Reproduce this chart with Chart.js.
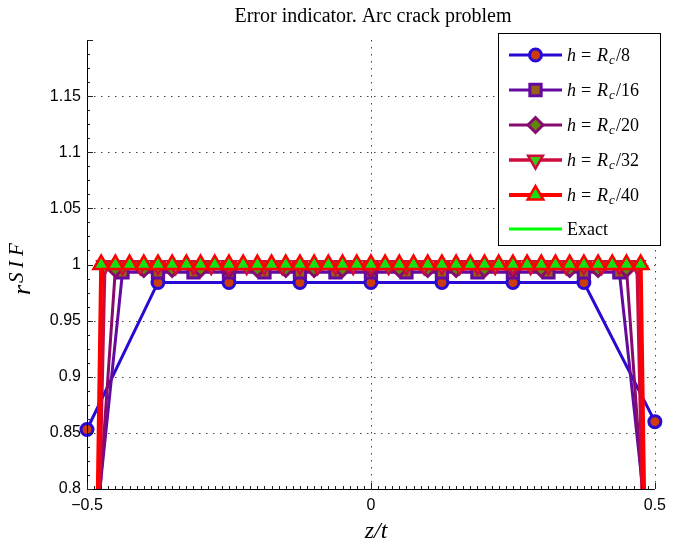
<!DOCTYPE html>
<html><head><meta charset="utf-8">
<script src="https://cdn.jsdelivr.net/npm/chart.js@4.4.1/dist/chart.umd.min.js"></script>
<style>html,body{margin:0;padding:0;background:#fff;}#wrap{width:673px;height:549px;}</style>
</head><body><div id="wrap"><canvas id="c" width="673" height="549"></canvas></div>
<script>
// ---- data ----
const x8  = [-0.5,-0.375,-0.25,-0.125,0,0.125,0.25,0.375,0.5];
const y8  = [0.853,0.984,0.984,0.984,0.984,0.984,0.984,0.984,0.860];

const x16 = [-0.5,-0.4375,-0.375,-0.3125,-0.25,-0.1875,-0.125,-0.0625,0,0.0625,0.125,0.1875,0.25,0.3125,0.375,0.4375,0.5];
const y16 = [0.69,0.993,0.993,0.993,0.993,0.993,0.993,0.993,0.993,0.993,0.993,0.993,0.993,0.993,0.993,0.993,0.70];

const x20 = [-0.5,-0.45,-0.4,-0.35,-0.3,-0.25,-0.2,-0.15,-0.1,-0.05,0,0.05,0.1,0.15,0.2,0.25,0.3,0.35,0.4,0.45,0.5];
const y20 = [0.63,0.996,0.996,0.996,0.996,0.996,0.996,0.996,0.996,0.996,0.996,0.996,0.996,0.996,0.996,0.996,0.996,0.996,0.996,0.996,0.64];

const x32 = [-0.5,-0.46875,-0.4375,-0.40625,-0.375,-0.34375,-0.3125,-0.28125,-0.25,-0.21875,-0.1875,-0.15625,-0.125,-0.09375,-0.0625,-0.03125,0,0.03125,0.0625,0.09375,0.125,0.15625,0.1875,0.21875,0.25,0.28125,0.3125,0.34375,0.375,0.40625,0.4375,0.46875,0.5];
const y32 = [0.30,0.999,0.999,0.999,0.999,0.999,0.999,0.999,0.999,0.999,0.999,0.999,0.999,0.999,0.999,0.999,0.999,0.999,0.999,0.999,0.999,0.999,0.999,0.999,0.999,0.999,0.999,0.999,0.999,0.999,0.999,0.999,0.30];

const x40 = [-0.5,-0.475,-0.45,-0.425,-0.4,-0.375,-0.35,-0.325,-0.3,-0.275,-0.25,-0.225,-0.2,-0.175,-0.15,-0.125,-0.1,-0.075,-0.05,-0.025,0,0.025,0.05,0.075,0.1,0.125,0.15,0.175,0.2,0.225,0.25,0.275,0.3,0.325,0.35,0.375,0.4,0.425,0.45,0.475,0.5];
const y40 = [0.15,1.0,1.0,1.0,1.0,1.0,1.0,1.0,1.0,1.0,1.0,1.0,1.0,1.0,1.0,1.0,1.0,1.0,1.0,1.0,1.0,1.0,1.0,1.0,1.0,1.0,1.0,1.0,1.0,1.0,1.0,1.0,1.0,1.0,1.0,1.0,1.0,1.0,1.0,1.0,0.15];

const xExact = [-0.475,0.475];
const yExact = [1.0,1.0];

const seriesDenoms = ['8','16','20','32','40'];
const xTickVals = [-0.5,0,0.5];
const xTickLabels = ['\u22120.5','0','0.5'];
const yTickVals = [0.8,0.85,0.9,0.95,1.0,1.05,1.1,1.15];
const yTickLabels = ['0.8','0.85','0.9','0.95','1','1.05','1.1','1.15'];
const titleText = 'Error indicator. Arc crack problem';

// ---- build ----
const pts = (xs, ys) => xs.map((x, i) => ({x: x, y: ys[i]}));
const styles = [
  {line:'rgb(40,10,210)',  face:'rgb(205,60,10)', ps:'circle',   r:6,   rot:0,   lw:3,   bw:3},
  {line:'rgb(100,10,160)', face:'rgb(150,95,20)', ps:'rect',     r:8,   rot:0,   lw:3,   bw:3},
  {line:'rgb(135,10,110)', face:'rgb(95,135,10)', ps:'rectRot',  r:7.5, rot:0,   lw:3,   bw:3},
  {line:'rgb(205,10,60)',  face:'rgb(60,200,20)', ps:'triangle', r:8.5, rot:180, lw:3.5, bw:2.5},
  {line:'rgb(255,0,0)',    face:'rgb(20,225,20)', ps:'triangle', r:9,   rot:0,   lw:4,   bw:2.5}
];
const allX = [x8,x16,x20,x32,x40];
const allY = [y8,y16,y20,y32,y40];
// Chart.js draws lower "order" on top: Rc/40 on top, Exact at the bottom
const datasets = styles.map((s, i) => ({
  label: 'h = Rc/' + seriesDenoms[i],
  data: pts(allX[i], allY[i]),
  borderColor: s.line, backgroundColor: s.face,
  borderWidth: s.lw,
  pointStyle: s.ps, pointRadius: s.r, pointRotation: s.rot,
  pointBorderWidth: s.bw, pointBorderColor: s.line, pointBackgroundColor: s.face,
  pointHoverRadius: s.r,
  tension: 0, order: 5 - i,
  clip: {left: 12, right: 12, top: 12, bottom: 0}
}));
datasets.push({
  label: 'Exact', data: pts(xExact, yExact),
  borderColor: 'rgb(0,255,0)', borderWidth: 3, pointRadius: 0, order: 10,
  clip: {left: 0, right: 0, top: 0, bottom: 0}
});

const pickLabel = (vals, labels, v) => {
  let bi = 0;
  vals.forEach((t, i) => { if (Math.abs(t - v) < Math.abs(vals[bi] - v)) bi = i; });
  return Math.abs(vals[bi] - v) < 1e-6 ? labels[bi] : '';
};

const deco = {
  id: 'deco',
  beforeDatasetsDraw(chart) {
    const ctx = chart.ctx, a = chart.chartArea;
    const xs = chart.scales.x, ys = chart.scales.y;
    ctx.save();
    ctx.strokeStyle = '#444'; ctx.lineWidth = 1; ctx.setLineDash([1.5, 5.5]);
    yTickVals.forEach(v => {
      if (v <= 0.8) return;
      const y = Math.round(ys.getPixelForValue(v)) + 0.5;
      ctx.beginPath(); ctx.moveTo(a.left, y); ctx.lineTo(a.right, y); ctx.stroke();
    });
    xTickVals.forEach(v => {
      if (v <= -0.5) return;
      const x = Math.round(xs.getPixelForValue(v)) + 0.5;
      ctx.beginPath(); ctx.moveTo(x, a.top); ctx.lineTo(x, a.bottom); ctx.stroke();
    });
    ctx.restore();
  },
  afterDraw(chart) {
    const ctx = chart.ctx, a = chart.chartArea;
    const xs = chart.scales.x, ys = chart.scales.y;
    ctx.save();
    // axis lines
    ctx.strokeStyle = '#000'; ctx.lineWidth = 1; ctx.setLineDash([]);
    ctx.beginPath();
    ctx.moveTo(a.left + 0.5, a.top); ctx.lineTo(a.left + 0.5, a.bottom + 0.5);
    ctx.lineTo(a.right, a.bottom + 0.5);
    ctx.stroke();
    // minor/major ticks (inward)
    ctx.strokeStyle = '#222';
    for (let k = 0; k <= 80; k++) {
      const v = -0.5 + k * 0.0125;
      const x = Math.round(xs.getPixelForValue(v)) + 0.5;
      const len = (k % 40 === 0) ? 6 : 3;
      ctx.beginPath(); ctx.moveTo(x, a.bottom); ctx.lineTo(x, a.bottom - len); ctx.stroke();
    }
    for (let k = 0; k <= 32; k++) {
      const v = 0.8 + k * 0.0125;
      const y = Math.round(ys.getPixelForValue(v)) + 0.5;
      const len = (k % 4 === 0) ? 6 : 3;
      ctx.beginPath(); ctx.moveTo(a.left, y); ctx.lineTo(a.left + len, y); ctx.stroke();
    }
    // title
    ctx.fillStyle = '#000';
    ctx.font = '20px "Liberation Serif", serif';
    ctx.textAlign = 'center'; ctx.textBaseline = 'alphabetic';
    ctx.fillText(titleText, 373, 22);
    // x label
    ctx.font = 'italic 24px "Liberation Serif", serif';
    ctx.fillText('z/t', 376, 538);
    // y label
    ctx.save();
    ctx.translate(30, 263); ctx.rotate(-Math.PI / 2);
    ctx.textAlign = 'left';
    ctx.font = 'italic 26px "Liberation Serif", serif';
    ctx.fillText('r', -32, 0);
    ctx.font = 'italic 21px "Liberation Serif", serif';
    ctx.fillText('S', -20, -7);
    ctx.fillText('I', -5, -7);
    ctx.fillText('F', 7, -7);
    ctx.restore();
    // legend box
    const L = 498.5, T = 33.5, R = 660.5, B = 245.5;
    ctx.fillStyle = '#fff'; ctx.fillRect(L, T, R - L, B - T);
    ctx.strokeStyle = '#000'; ctx.lineWidth = 1; ctx.strokeRect(L, T, R - L, B - T);
    const rows = [55, 90, 125, 160, 195, 229];
    chart.data.datasets.forEach((ds, i) => {
      const y = rows[i];
      ctx.strokeStyle = ds.borderColor; ctx.lineWidth = ds.borderWidth;
      ctx.beginPath(); ctx.moveTo(509, y); ctx.lineTo(562, y); ctx.stroke();
      if (ds.pointRadius > 0) {
        ctx.fillStyle = ds.pointBackgroundColor; ctx.strokeStyle = ds.pointBorderColor;
        ctx.lineWidth = ds.pointBorderWidth;
        Chart.helpers.drawPoint(ctx, {pointStyle: ds.pointStyle, radius: ds.pointRadius,
          rotation: ds.pointRotation, borderWidth: ds.pointBorderWidth}, 535.5, y);
      }
      ctx.fillStyle = '#000'; ctx.textAlign = 'left'; ctx.textBaseline = 'alphabetic';
      const by = y + 6;
      if (i < 5) {
        ctx.font = 'italic 18px "Liberation Serif", serif';
        ctx.fillText('h', 567, by);
        ctx.font = '18px "Liberation Serif", serif';
        ctx.fillText('=', 581, by);
        ctx.font = 'italic 18px "Liberation Serif", serif';
        ctx.fillText('R', 597, by);
        ctx.font = 'italic 13px "Liberation Serif", serif';
        ctx.fillText('c', 609, by + 3);
        ctx.font = '18px "Liberation Serif", serif';
        ctx.fillText('/' + seriesDenoms[i], 616, by);
      } else {
        ctx.font = '18px "Liberation Serif", serif';
        ctx.fillText('Exact', 567, by);
      }
    });
    ctx.restore();
  }
};

new Chart(document.getElementById('c'), {
  type: 'line',
  data: { datasets: datasets },
  options: {
    responsive: false, animation: false, devicePixelRatio: 1,
    events: [],
    layout: { padding: { top: 40, right: 15, left: 0, bottom: 0 } },
    plugins: { legend: { display: false }, tooltip: { enabled: false }, title: { display: false } },
    scales: {
      x: {
        type: 'linear', min: -0.5, max: 0.5,
        afterBuildTicks: s => { s.ticks = xTickVals.map(v => ({ value: v })); },
        afterFit: s => { s.height = 60; },
        grid: { display: true, drawOnChartArea: false, drawTicks: false },
        border: { display: false },
        ticks: { padding: 7, color: '#000', autoSkip: false, maxRotation: 0,
          font: { family: '"Liberation Sans", Arial, sans-serif', size: 16 },
          callback: v => pickLabel(xTickVals, xTickLabels, v) }
      },
      y: {
        type: 'linear', min: 0.8, max: 1.2,
        afterBuildTicks: s => { s.ticks = yTickVals.map(v => ({ value: v })); },
        afterFit: s => { s.width = 87; },
        grid: { display: true, drawOnChartArea: false, drawTicks: false },
        border: { display: false },
        ticks: { padding: 6, color: '#000', autoSkip: false,
          font: { family: '"Liberation Sans", Arial, sans-serif', size: 16 },
          callback: v => pickLabel(yTickVals, yTickLabels, v) }
      }
    }
  },
  plugins: [deco]
});
</script></body></html>
